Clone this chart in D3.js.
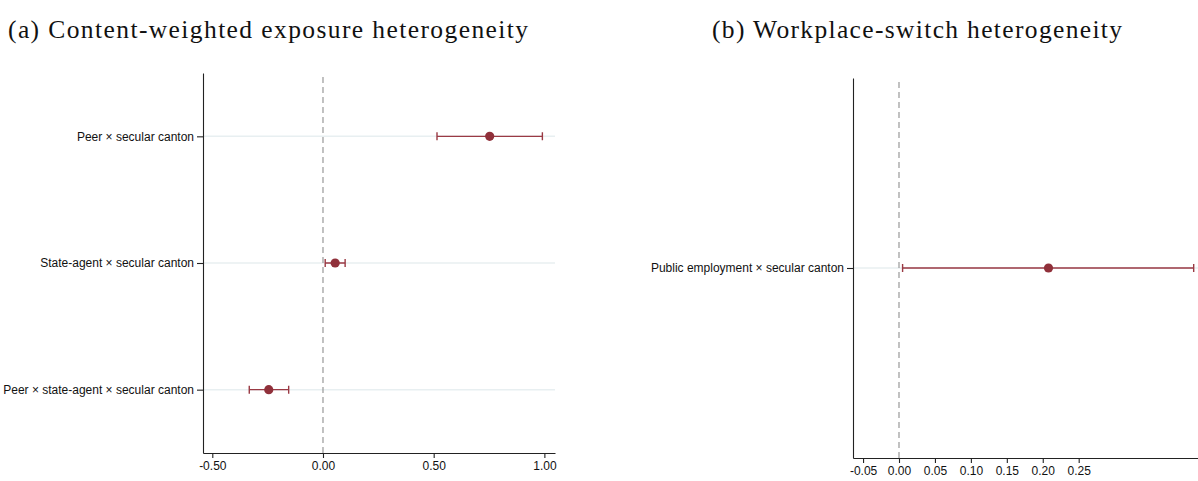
<!DOCTYPE html>
<meta charset="utf-8">
<script src="https://cdn.jsdelivr.net/npm/d3@7"></script>
<style>
body { margin: 0; background: #fff; }
.title { font-family: "Liberation Serif", "DejaVu Serif", serif; fill: #111; }
.axis text { font-family: "Liberation Sans", Arial, sans-serif; font-size: 12px; fill: #111; }
.axis path, .axis line { stroke: #222; stroke-width: 1.1px; }
.ylab text { font-size: 12px; }
.grid { stroke: #e8eff1; stroke-width: 1.5px; }
.zero { stroke: #999; stroke-width: 1.2px; stroke-dasharray: 6,4; }
.ci { stroke: #9a3a44; stroke-width: 1.4px; fill: none; }
.pt { fill: #90303a; }
</style>
<body>
<script>

// panel (a)
var termsA = ["Peer × secular canton", "State-agent × secular canton", "Peer × state-agent × secular canton"];
var coefA = [0.753, 0.055, -0.245];
var lowA  = [0.515, 0.010, -0.333];
var highA = [0.991, 0.100, -0.155];
var ticksA = [-0.5, 0, 0.5, 1.0];

// panel (b)
var termsB = ["Public employment × secular canton"];
var coefB = [0.208];
var lowB  = [0.005];
var highB = [0.410];
var ticksB = [-0.05, 0, 0.05, 0.10, 0.15, 0.20, 0.25];

var width = 1198, height = 481;

var svg = d3.select("body").append("svg")
    .attr("width", width)
    .attr("height", height);

// serif title, stretched a little by letter spacing to the reference width
function fitTitle(str, x, y, w) {
  var t = svg.append("text").attr("class", "title")
      .attr("x", x).attr("y", y)
      .style("font-size", "25.5px")
      .text(str);
  var len = t.node().getComputedTextLength();
  t.style("letter-spacing", ((w - len) / (str.length - 1)) + "px");
}

function panel(opt) {
  var rows = opt.terms.map(function(t, i) {
    return {term: t, b: opt.coef[i], lo: opt.low[i], hi: opt.high[i]};
  });

  var x = d3.scaleLinear().domain(opt.xdom).range(opt.xr);
  var y = d3.scalePoint().domain(opt.terms).range(opt.yr).padding(0.5);

  var g = svg.append("g");

  // horizontal grid at each row
  g.selectAll(".grid").data(rows).enter().append("line")
      .attr("class", "grid")
      .attr("x1", opt.xr[0]).attr("x2", opt.xr[1])
      .attr("y1", function(d) { return y(d.term); })
      .attr("y2", function(d) { return y(d.term); });

  // zero reference
  g.append("line").attr("class", "zero")
      .attr("x1", x(0)).attr("x2", x(0))
      .attr("y1", opt.yr[0] + 4).attr("y2", opt.yr[1]);

  // confidence intervals
  g.selectAll(".ci").data(rows).enter().append("path")
      .attr("class", "ci")
      .attr("d", function(d) {
        var yy = y(d.term), a = x(d.lo), b = x(d.hi);
        return "M" + a + "," + (yy - 4) + "V" + (yy + 4) +
               "M" + a + "," + yy + "H" + b +
               "M" + b + "," + (yy - 4) + "V" + (yy + 4);
      });

  g.selectAll(".pt").data(rows).enter().append("circle")
      .attr("class", "pt")
      .attr("cx", function(d) { return x(d.b); })
      .attr("cy", function(d) { return y(d.term); })
      .attr("r", 4.6);

  // axes
  g.append("g").attr("class", "axis")
      .attr("transform", "translate(0," + opt.yr[1] + ")")
      .call(d3.axisBottom(x).tickValues(opt.ticks).tickSize(5).tickSizeOuter(0).tickPadding(3)
        .tickFormat(d3.format(".2f")));

  g.append("g").attr("class", "axis ylab")
      .attr("transform", "translate(" + opt.xr[0] + ",0)")
      .call(d3.axisLeft(y).tickSize(6).tickSizeOuter(0).tickPadding(3));

  g.selectAll(".axis text").text(function() {
    return this.textContent.replace("−", "-");
  });
}

panel({terms: termsA, coef: coefA, low: lowA, high: highA, ticks: ticksA,
       xdom: [-0.542, 1.048], xr: [203, 555], yr: [73, 453]});

panel({terms: termsB, coef: coefB, low: lowB, high: highB, ticks: ticksB,
       xdom: [-0.064, 0.416], xr: [853, 1198], yr: [78, 458]});

fitTitle("(a) Content-weighted exposure heterogeneity", 8, 38, 520);
fitTitle("(b) Workplace-switch heterogeneity", 712, 38, 410);

</script>
</body>
